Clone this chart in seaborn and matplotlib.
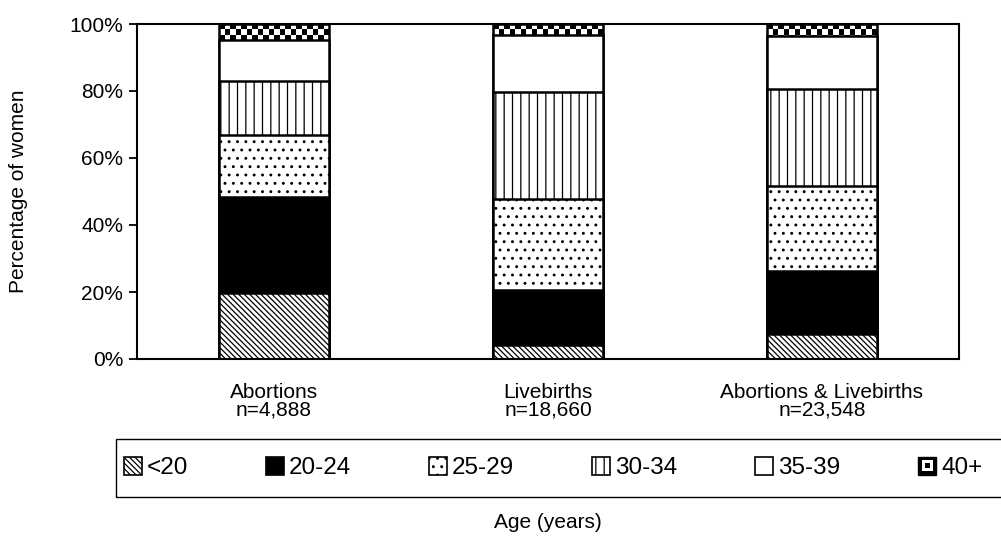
import numpy as np
import pandas as pd
import matplotlib
matplotlib.use("Agg")
import matplotlib.pyplot as plt
import seaborn as sns
from matplotlib.patches import Patch, Rectangle
from matplotlib.legend_handler import HandlerBase
from matplotlib.ticker import PercentFormatter

# ---- data (percent of women per age group) ----
categories = ["Abortions\nn=4,888", "Livebirths\nn=18,660", "Abortions & Livebirths\nn=23,548"]
age_groups = ["<20", "20-24", "25-29", "30-34", "35-39", "40+"]
pct_lt20 = [19.8, 4.2, 7.5]
pct_20_24 = [28.6, 16.4, 18.9]
pct_25_29 = [18.5, 27.2, 25.2]
pct_30_34 = [16.2, 31.8, 28.9]
pct_35_39 = [12.1, 17.1, 15.9]
pct_40p = [4.8, 3.3, 3.6]

series = [pct_lt20, pct_20_24, pct_25_29, pct_30_34, pct_35_39, pct_40p]
vals = np.array(series, dtype=float)
vals = vals / vals.sum(axis=0, keepdims=True)  # shares of 1
cum = np.cumsum(vals, axis=0)

styles = {
    "<20": dict(fc="white", hatch="\\\\\\\\\\\\"),
    "20-24": dict(fc="black", hatch=None),
    "25-29": dict(fc="white", hatch=".."),
    "30-34": dict(fc="white", hatch="||"),
    "35-39": dict(fc="white", hatch=None),
    "40+": dict(fc="white", hatch=None),
}

sns.set_theme(style="white")
plt.rcParams["font.family"] = ["Liberation Sans", "DejaVu Sans"]
plt.rcParams["hatch.linewidth"] = 0.9

FS = 15
W, H = 1001, 539
fig = plt.figure(figsize=(W / 100, H / 100), dpi=100)
ax = fig.add_axes([137 / W, 1 - 359 / H, (959 - 137) / W, (359 - 24) / H])

# draw from the top group down (cumulative stacking)
for i in range(len(age_groups) - 1, -1, -1):
    g = age_groups[i]
    df = pd.DataFrame({"cat": categories, "val": cum[i]})
    n_before = len(ax.patches)
    sns.barplot(data=df, x="cat", y="val", order=categories, color=styles[g]["fc"],
                saturation=1, edgecolor="black", linewidth=1.8, width=0.4,
                hatch=styles[g]["hatch"], errorbar=None, ax=ax, zorder=2 + (5 - i) * 0.01)
    new = ax.patches[n_before:]
    if g == "40+":
        ax.set_xlim(-0.5, 2.5)
        ax.set_ylim(0, 1)
        # checkerboard fill clipped to each bar
        for p in new:
            p.set_facecolor("none")
            p.set_zorder(1.9)
            x0, y0 = p.get_x(), p.get_y()
            x1, y1 = x0 + p.get_width(), y0 + p.get_height()
            (px0, py0), (px1, py1) = ax.transData.transform([(x0, y0), (x1, y1)])
            cell = 5.5
            ncol = int(np.ceil((px1 - px0) / cell))
            nrow = int(np.ceil((py1 - py0) / cell))
            arr = (np.indices((nrow, ncol)).sum(axis=0) % 2).astype(float)
            dx = (x1 - x0) / ((px1 - px0) / cell)
            dy = (y1 - y0) / ((py1 - py0) / cell)
            im = ax.imshow(arr, cmap="gray", extent=(x0, x0 + ncol * dx, y1 - nrow * dy, y1),
                           origin="upper", interpolation="nearest", aspect="auto", zorder=1.8)
            im.set_clip_path(p)

ax.set_xlim(-0.5, 2.5)
ax.set_ylim(0, 1)
ax.yaxis.set_major_formatter(PercentFormatter(1.0, decimals=0))
ax.set_yticks(np.arange(0, 1.01, 0.2))
ax.set_xlabel("")
ax.set_ylabel("")
for s in ax.spines.values():
    s.set_visible(True)
    s.set_color("black")
    s.set_linewidth(1.5)
ax.tick_params(axis="y", direction="out", length=6, width=1.3, color="black",
               labelsize=FS, pad=4, left=True, labelcolor="black")
ax.tick_params(axis="x", length=0, labelsize=FS, pad=17, labelcolor="black")
for t in ax.get_xticklabels():
    t.set_linespacing(0.95)
ax.grid(False)

fig.text(19 / W, 1 - 191 / H, "Percentage of women", rotation=90, ha="center", va="center",
         fontsize=FS, color="black")
fig.text(548 / W, 1 - 522 / H, "Age (years)", ha="center", va="center", fontsize=FS, color="black")

# legend box
fig.patches.append(Rectangle((116 / W, 1 - 497 / H), 1.0, 58 / H, transform=fig.transFigure,
                             fill=False, edgecolor="black", linewidth=1.0))


class CheckHandler(HandlerBase):
    def create_artists(self, legend, orig_handle, xdescent, ydescent, width, height, fontsize, trans):
        s = min(width, height)
        x0 = -xdescent + (width - s) / 2
        y0 = -ydescent + (height - s) / 2
        outer = Rectangle((x0, y0), s, s, facecolor="black", edgecolor="black", lw=1, transform=trans)
        mid = Rectangle((x0 + s * 0.2, y0 + s * 0.2), s * 0.6, s * 0.6, facecolor="white",
                        edgecolor="none", transform=trans)
        inner = Rectangle((x0 + s * 0.35, y0 + s * 0.35), s * 0.3, s * 0.3, facecolor="black",
                          edgecolor="none", transform=trans)
        return [outer, mid, inner]


handles = []
for g in age_groups[:-1]:
    handles.append(Patch(facecolor=styles[g]["fc"], edgecolor="black", hatch=styles[g]["hatch"], lw=1.2))
check_handle = Patch(facecolor="black", edgecolor="black")
handles.append(check_handle)

fig.legend(handles, age_groups, loc="center", bbox_to_anchor=(553 / W, 1 - 468 / H), ncol=6,
           frameon=False, fontsize=17.5, handlelength=0.75, handleheight=0.75, handletextpad=0.2,
           columnspacing=3.2, handler_map={check_handle: CheckHandler()},
           labelcolor="black")

fig.savefig("out.png", dpi=100)
